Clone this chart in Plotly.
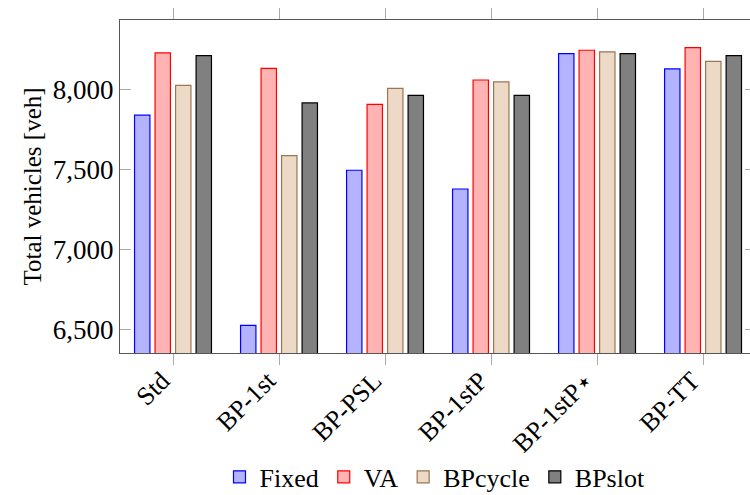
import plotly.graph_objects as go

categories = ["Std", "BP-1st", "BP-PSL", "BP-1stP", "BP-1stP⋆", "BP-TT"]
fixed = [7842, 6529, 7498, 7381, 8227, 8131]
va = [8231, 8135, 7910, 8062, 8248, 8264]
bpcycle = [8029, 7589, 8010, 8050, 8238, 8179]
bpslot = [8214, 7919, 7966, 7966, 8227, 8214]

series = [
    ("Fixed", fixed, "#b3b3ff", "#0000ff"),
    ("VA", va, "#ffb3b3", "#ff0000"),
    ("BPcycle", bpcycle, "#ecd9c6", "#9a7652"),
    ("BPslot", bpslot, "#808080", "#000000"),
]

font = "Liberation Serif"

fig = go.Figure()
for name, vals, fill, line in series:
    fig.add_trace(go.Bar(x=categories, y=vals, name=name,
                         marker=dict(color=fill, line=dict(color=line, width=1.2))))

# invisible trace to get the right-hand tick marks
fig.add_trace(go.Scatter(x=[categories[0]], y=[None], yaxis="y2", showlegend=False,
                         hoverinfo="skip"))

fig.update_layout(
    width=750, height=495,
    margin=dict(l=120, r=0, t=20, b=142, autoexpand=False),
    plot_bgcolor="white", paper_bgcolor="white",
    font=dict(family=font, size=26, color="black"),
    barmode="group", bargap=0.226, bargroupgap=0.25,
    xaxis=dict(range=[-0.5, 5.443], showline=True, linecolor="#555555", linewidth=1.2,
               mirror="ticks", ticks="outside", ticklen=11, tickcolor="#aaaaaa",
               tickangle=-45, showgrid=False, automargin=False,
               ticklabelshift=-11, ticklabelstandoff=-10,
               tickfont=dict(family=font, size=26)),
    yaxis=dict(range=[6356, 8437], tickvals=[6500, 7000, 7500, 8000], tickformat=",",
               showline=True, linecolor="#555555", linewidth=1.2, ticks="inside",
               ticklen=11, tickcolor="#aaaaaa", showgrid=False, zeroline=False,
               automargin=False,
               title=dict(text="Total vehicles [veh]", font=dict(family=font, size=25),
                          standoff=4),
               tickfont=dict(family=font, size=27)),
    yaxis2=dict(range=[6356, 8437], tickvals=[6500, 7000, 7500, 8000], overlaying="y",
                side="right", showline=False, ticks="inside", ticklen=5,
                tickcolor="#aaaaaa", showticklabels=False, showgrid=False, zeroline=False,
                automargin=False),
    legend=dict(orientation="h", x=0.5, xanchor="center", y=-0.372, yanchor="middle",
                font=dict(family=font, size=26), itemwidth=30, tracegroupgap=0),
    showlegend=True,
)

fig.write_html("out.html", config={"displayModeBar": False},
               post_script="document.body.style.margin='0';")
